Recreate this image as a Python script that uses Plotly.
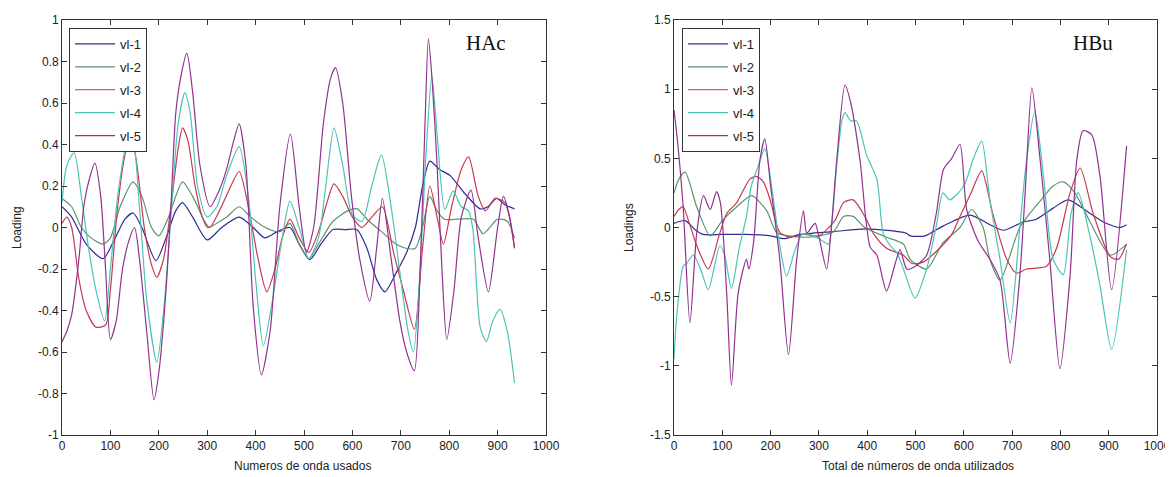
import plotly.graph_objects as go

# ---------------- data: HAc (left panel) ----------------
hac_v1_x = [0,20,50,85,110,130,147,165,194,215,235,249,270,300,330,366,395,419,445,471,490,512,535,560,585,609,630,650,667,690,712,730,745,760,780,802,830,864,880,898,915,935]
hac_v1_y = [0.1,0.05,-0.08,-0.15,-0.05,0.04,0.07,0.0,-0.16,-0.05,0.08,0.12,0.05,-0.06,0.0,0.05,0.0,-0.05,-0.02,0.0,-0.08,-0.155,-0.08,-0.01,-0.01,-0.01,-0.1,-0.25,-0.31,-0.22,-0.12,0.0,0.2,0.32,0.28,0.25,0.17,0.09,0.1,0.14,0.11,0.09]

hac_v2_x = [0,20,40,60,85,100,120,147,165,185,200,220,249,270,290,300,340,366,390,420,450,471,490,510,530,560,590,610,630,660,690,710,730,745,760,775,790,820,850,870,900,920,935]
hac_v2_y = [0.14,0.1,0.0,-0.05,-0.08,-0.05,0.1,0.22,0.15,0.0,-0.04,0.05,0.22,0.15,0.05,0.0,0.05,0.1,0.05,0.0,-0.02,0.02,-0.08,-0.15,-0.08,0.03,0.08,0.09,0.04,-0.02,-0.08,-0.1,-0.1,0.0,0.15,0.08,0.04,0.04,0.04,-0.03,0.04,0.03,-0.05]

hac_v3_x = [0,10,20,35,50,70,90,100,115,130,142,155,170,185,196,210,225,240,249,260,275,290,305,325,345,366,385,405,423,440,455,471,490,510,530,545,562,580,600,620,640,662,685,705,728,745,760,775,788,805,825,840,860,875,895,915,935]
hac_v3_y = [0.02,0.05,0.0,-0.25,-0.4,-0.48,-0.47,-0.3,0.1,0.35,0.45,0.3,0.0,-0.18,-0.24,-0.15,0.1,0.38,0.48,0.42,0.2,0.05,0.0,0.08,0.18,0.27,0.1,-0.15,-0.31,-0.2,-0.05,0.04,-0.05,-0.12,-0.02,0.1,0.21,0.15,0.05,0.0,0.05,0.1,-0.12,-0.3,-0.49,-0.1,0.2,0.05,-0.08,0.1,0.28,0.34,0.15,0.08,0.14,0.12,-0.1]

hac_v4_x = [0,10,25,40,55,70,88,100,115,135,145,160,175,196,210,225,240,254,265,280,300,320,340,366,385,400,416,435,455,471,490,510,530,545,562,580,600,620,640,660,680,700,715,726,740,752,764,775,791,808,825,840,849,864,877,890,905,920,935]
hac_v4_y = [0.12,0.3,0.36,0.15,-0.1,-0.3,-0.45,-0.2,0.15,0.42,0.45,0.1,-0.35,-0.65,-0.4,0.05,0.5,0.65,0.55,0.2,0.05,0.1,0.25,0.39,0.15,-0.25,-0.57,-0.35,-0.05,0.127,0.0,-0.15,-0.05,0.2,0.48,0.3,0.06,0.03,0.2,0.35,0.1,-0.25,-0.5,-0.6,-0.2,0.35,0.73,0.45,0.087,0.175,0.1,0.08,-0.01,-0.48,-0.55,-0.45,-0.395,-0.5,-0.75]

hac_v5_x = [0,10,20,35,45,55,68,80,90,100,112,125,140,150,160,175,190,200,215,225,235,245,258,270,285,306,325,340,355,366,380,395,412,430,450,472,490,505,520,540,555,565,580,598,615,636,650,662,680,698,712,728,740,750,757,765,775,785,795,810,825,845,860,881,900,912,925,935]
hac_v5_y = [-0.55,-0.5,-0.42,-0.15,0.1,0.22,0.31,0.15,-0.2,-0.54,-0.45,-0.2,-0.05,0.0,-0.15,-0.5,-0.83,-0.7,-0.3,0.1,0.55,0.72,0.84,0.65,0.3,0.1,0.18,0.28,0.42,0.5,0.3,-0.38,-0.71,-0.5,0.1,0.45,0.1,-0.12,0.0,0.5,0.72,0.77,0.6,0.15,-0.15,-0.355,-0.1,0.14,-0.15,-0.45,-0.6,-0.69,-0.2,0.5,0.91,0.7,0.3,-0.2,-0.54,-0.3,0.05,0.18,-0.05,-0.31,0.0,0.15,0.05,-0.1]

# ---------------- data: HBu (right panel) ----------------
hbu_v1_x = [0,23,45,60,100,150,200,230,260,330,400,480,489,520,557,613,654,682,723,750,785,816,854,889,923,937]
hbu_v1_y = [0.03,0.05,-0.02,-0.05,-0.05,-0.05,-0.06,-0.08,-0.05,-0.03,-0.01,-0.04,-0.06,-0.06,0.01,0.09,0.02,-0.02,0.04,0.06,0.14,0.2,0.12,0.04,0.0,0.02]

hbu_v2_x = [0,10,23,47,75,100,130,161,192,213,240,280,330,351,371,395,440,475,489,523,557,592,616,640,654,675,716,760,785,806,830,860,903,937]
hbu_v2_y = [0.25,0.35,0.4,0.15,-0.06,0.05,0.15,0.23,0.12,-0.04,-0.06,-0.07,-0.03,0.08,0.08,0.0,-0.07,-0.12,-0.23,-0.3,-0.11,0.0,0.13,0.0,-0.23,-0.38,0.0,0.2,0.3,0.33,0.25,0.05,-0.2,-0.12]

hbu_v3_x = [0,10,19,30,47,71,94,109,130,157,171,185,199,213,220,240,270,300,333,351,371,395,414,440,475,493,516,550,575,592,615,637,660,689,709,730,771,792,820,841,868,903,920,937]
hbu_v3_y = [0.08,0.13,0.15,0.05,-0.13,-0.3,-0.05,0.1,0.18,0.35,0.37,0.33,0.2,0.01,-0.04,-0.07,-0.05,-0.06,0.05,0.18,0.2,0.08,-0.05,-0.15,-0.2,-0.26,-0.25,-0.15,-0.05,0.08,0.25,0.41,0.1,-0.23,-0.33,-0.3,-0.28,-0.15,0.25,0.43,0.1,-0.21,-0.23,-0.12]

hbu_v4_x = [0,5,19,26,40,55,71,95,105,119,135,150,160,175,188,206,219,233,250,265,280,300,320,326,337,348,354,366,378,399,420,433,447,461,475,499,523,543,557,571,600,620,637,654,675,696,716,730,747,765,785,806,822,837,861,882,906,937]
hbu_v4_y = [-0.95,-0.67,-0.28,-0.26,-0.2,-0.3,-0.45,-0.13,-0.2,-0.44,-0.15,0.08,0.3,0.45,0.57,0.2,-0.13,-0.35,-0.17,-0.05,-0.05,-0.08,-0.12,0.0,0.45,0.78,0.83,0.77,0.77,0.52,0.35,-0.04,-0.13,-0.18,-0.3,-0.51,-0.3,0.01,0.25,0.2,0.3,0.5,0.625,0.2,-0.23,-0.69,0.0,0.49,0.84,0.37,-0.23,-0.34,0.1,0.25,-0.06,-0.42,-0.88,-0.16]

hbu_v5_x = [0,8,19,33,47,61,75,88,96,109,119,133,150,155,165,178,188,200,219,237,254,268,275,292,299,316,326,337,354,366,385,406,420,440,458,468,482,500,523,543,558,575,592,606,630,654,675,696,716,727,741,758,778,799,820,834,847,865,882,906,937]
hbu_v5_y = [0.85,0.6,0.15,-0.69,-0.04,0.23,0.13,0.26,0.18,-0.47,-1.14,-0.47,-0.23,-0.3,-0.1,0.49,0.64,0.3,-0.23,-0.92,-0.23,0.12,-0.04,0.03,-0.05,-0.3,0.01,0.49,1.03,0.9,0.49,-0.14,-0.2,-0.46,-0.26,-0.16,-0.3,-0.28,-0.2,0.1,0.42,0.5,0.6,0.13,-0.1,-0.23,-0.38,-0.98,-0.35,0.25,1.01,0.49,-0.23,-1.02,-0.35,0.49,0.70,0.67,0.37,-0.45,0.59]

series_names = ["vl-1", "vl-2", "vl-3", "vl-4", "vl-5"]
x_ticks = [0, 100, 200, 300, 400, 500, 600, 700, 800, 900, 1000]
x_ticktext = ["0", "100", "200", "300", "400", "500", "600", "700", "800", "900", "1000"]
yl_ticks = [-1, -0.8, -0.6, -0.4, -0.2, 0, 0.2, 0.4, 0.6, 0.8, 1]
yl_ticktext = ["-1", "-0.8", "-0.6", "-0.4", "-0.2", "0", "0.2", "0.4", "0.6", "0.8", "1"]
yr_ticks = [-1.5, -1, -0.5, 0, 0.5, 1, 1.5]
yr_ticktext = ["-1.5", "-1", "-0.5", "0", "0.5", "1", "1.5"]

colors = ["#2c2c96", "#5b9470", "#c7394e", "#4cc4b4", "#92318f"]

hac = [(hac_v1_x, hac_v1_y), (hac_v2_x, hac_v2_y), (hac_v3_x, hac_v3_y),
       (hac_v4_x, hac_v4_y), (hac_v5_x, hac_v5_y)]
hbu = [(hbu_v1_x, hbu_v1_y), (hbu_v2_x, hbu_v2_y), (hbu_v3_x, hbu_v3_y),
       (hbu_v4_x, hbu_v4_y), (hbu_v5_x, hbu_v5_y)]

fig = go.Figure()
for i, (xs, ys) in enumerate(hac):
    fig.add_trace(go.Scatter(x=xs, y=ys, name=series_names[i], mode="lines",
                             line=dict(color=colors[i], width=1.2, shape="spline", smoothing=0.7),
                             xaxis="x", yaxis="y", legend="legend", legendgroup="hac%d" % i))
for i, (xs, ys) in enumerate(hbu):
    fig.add_trace(go.Scatter(x=xs, y=ys, name=series_names[i], mode="lines",
                             line=dict(color=colors[i], width=1.2, shape="spline", smoothing=0.7),
                             xaxis="x2", yaxis="y2", legend="legend2", legendgroup="hbu%d" % i))

# the page body has an 8px margin, so the figure starts at (8, 8) in the window
OFF = 8
W, H = 1173 - OFF, 477 - OFF
def px(v): return (v - OFF) / W
def py(v): return (H - (v - OFF)) / H

axis_common = dict(showline=True, linecolor="#333", linewidth=1, mirror="ticks",
                   ticks="inside", ticklen=5, tickcolor="#333", showgrid=False,
                   zeroline=False, automargin=False,
                   tickfont=dict(family="Liberation Sans, Arial", size=12, color="#222"))

legend_common = dict(bgcolor="white", bordercolor="#333", borderwidth=1,
                     font=dict(family="Liberation Sans, Arial", size=13, color="#222"),
                     xanchor="left", yanchor="top", traceorder="grouped", tracegroupgap=3,
                     itemwidth=40)

label_font = dict(family="Liberation Sans, Arial", size=12, color="#222")
title_font = dict(family="Liberation Serif, Times New Roman", size=21, color="#111")

fig.update_layout(
    width=W, height=H, margin=dict(l=0, r=0, t=0, b=0, autoexpand=False),
    paper_bgcolor="white", plot_bgcolor="white",
    xaxis=dict(domain=[px(62), px(546)], range=[0, 1000], tickvals=x_ticks, ticktext=x_ticktext,
               anchor="y", **axis_common),
    yaxis=dict(domain=[py(435), py(20)], range=[-1, 1], tickvals=yl_ticks, ticktext=yl_ticktext,
               anchor="x", **axis_common),
    xaxis2=dict(domain=[px(674), px(1157)], range=[0, 1000], tickvals=x_ticks, ticktext=x_ticktext,
                anchor="y2", **axis_common),
    yaxis2=dict(domain=[py(435), py(20)], range=[-1.5, 1.5], tickvals=yr_ticks, ticktext=yr_ticktext,
                anchor="x2", **axis_common),
    legend=dict(x=px(69), y=py(28), **legend_common),
    legend2=dict(x=px(682), y=py(28), **legend_common),
    annotations=[
        dict(text="HAc", x=px(486), y=py(43), xref="paper", yref="paper", showarrow=False,
             xanchor="center", yanchor="middle", font=title_font),
        dict(text="HBu", x=px(1093), y=py(43), xref="paper", yref="paper", showarrow=False,
             xanchor="center", yanchor="middle", font=title_font),
        dict(text="Loading", x=px(17), y=py(228), xref="paper", yref="paper", showarrow=False,
             xanchor="center", yanchor="middle", textangle=-90, font=label_font),
        dict(text="Numeros de onda usados", x=px(302), y=py(466), xref="paper", yref="paper",
             xanchor="center", yanchor="middle", showarrow=False, font=label_font),
        dict(text="Loadings", x=px(629), y=py(228), xref="paper", yref="paper", showarrow=False,
             xanchor="center", yanchor="middle", textangle=-90, font=label_font),
        dict(text="Total de números de onda utilizados", x=px(918), y=py(466), xref="paper",
             yref="paper", xanchor="center", yanchor="middle", showarrow=False, font=label_font),
    ],
)

fig.write_html("out.html")
